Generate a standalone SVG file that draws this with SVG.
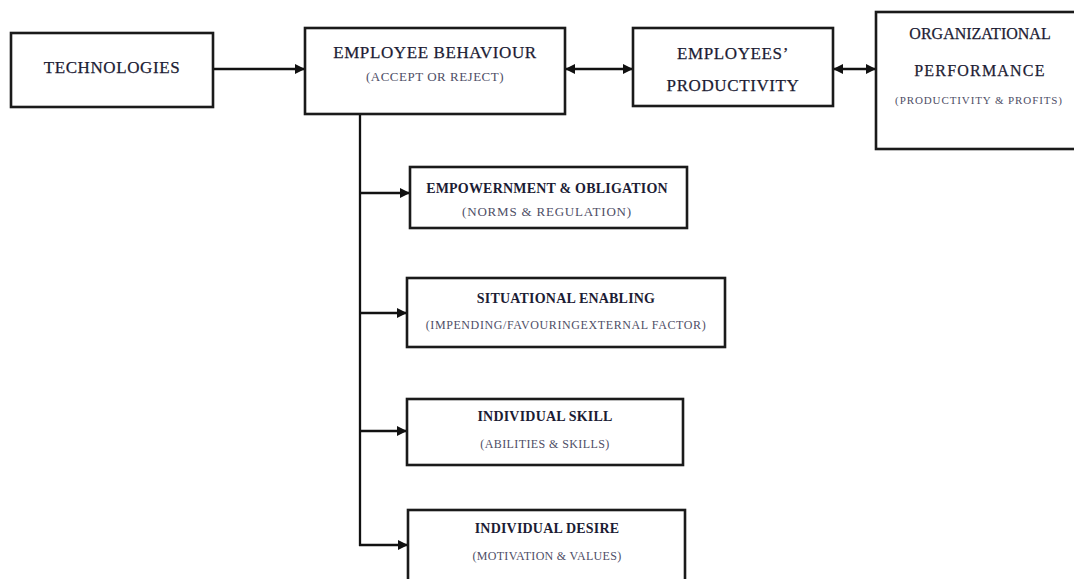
<svg xmlns="http://www.w3.org/2000/svg" width="1074" height="579" viewBox="0 0 1074 579">
<defs>
<marker id="ah" viewBox="0 0 10 10" refX="10" refY="5" markerWidth="11" markerHeight="10" markerUnits="userSpaceOnUse" orient="auto-start-reverse">
<path d="M0,0 L10,5 L0,10 z" fill="#111"/>
</marker>
<style>
.box{fill:#fff;stroke:#1a1a1a;stroke-width:2.6}
.t{font-family:"Liberation Serif","Times New Roman",serif;fill:#1c1c34;text-anchor:middle}
.big{font-size:17px;letter-spacing:0.6px;stroke:#1c1c34;stroke-width:0.25}
.mid{font-size:16px;stroke:#1c1c34;stroke-width:0.25}
.b{font-size:14px;font-weight:bold;letter-spacing:0.2px}
.s{font-size:12px;fill:#4e4e66;letter-spacing:0.6px}
.c{stroke:#111;stroke-width:2.3;fill:none}
</style>
</defs>
<rect width="1074" height="579" fill="#fff"/>
<g id="connectors">
<line class="c" x1="213" y1="69" x2="305" y2="69" marker-end="url(#ah)"/>
<line class="c" x1="565" y1="69" x2="633" y2="69" marker-start="url(#ah)" marker-end="url(#ah)"/>
<line class="c" x1="833" y1="69" x2="876" y2="69" marker-start="url(#ah)" marker-end="url(#ah)"/>
<line class="c" x1="360" y1="114" x2="360" y2="546"/>
<line class="c" x1="359" y1="193" x2="410" y2="193" marker-end="url(#ah)"/>
<line class="c" x1="359" y1="313" x2="407" y2="313" marker-end="url(#ah)"/>
<line class="c" x1="359" y1="431" x2="407" y2="431" marker-end="url(#ah)"/>
<line class="c" x1="359" y1="545" x2="408" y2="545" marker-end="url(#ah)"/>
</g>
<g id="technologies">
<rect class="box" x="11" y="33" width="202" height="74"/>
<text class="t big" x="112" y="73">TECHNOLOGIES</text>
</g>
<g id="employee-behaviour">
<rect class="box" x="305" y="28" width="260" height="86"/>
<text class="t big" x="435" y="58">EMPLOYEE BEHAVIOUR</text>
<text class="t s" x="435" y="81" style="font-size:13px;letter-spacing:0.5px">(ACCEPT OR REJECT)</text>
</g>
<g id="employees-productivity">
<rect class="box" x="633" y="28" width="200" height="78"/>
<text class="t big" x="733" y="59">EMPLOYEES’</text>
<text class="t big" x="733" y="91">PRODUCTIVITY</text>
</g>
<g id="organizational-performance">
<rect class="box" x="876" y="12" width="210" height="137"/>
<text class="t mid" x="980" y="39">ORGANIZATIONAL</text>
<text class="t mid" x="980" y="76" style="letter-spacing:1.2px">PERFORMANCE</text>
<text class="t s" x="979" y="104" style="font-size:11px;letter-spacing:0.9px">(PRODUCTIVITY &amp; PROFITS)</text>
</g>
<g id="empowerment">
<rect class="box" x="410" y="167" width="277" height="61"/>
<text class="t b" x="547" y="193">EMPOWERNMENT &amp; OBLIGATION</text>
<text class="t s" x="547" y="216" style="font-size:13px;letter-spacing:0.8px">(NORMS &amp; REGULATION)</text>
</g>
<g id="situational">
<rect class="box" x="407" y="278" width="318" height="69"/>
<text class="t b" x="566" y="303">SITUATIONAL ENABLING</text>
<text class="t s" x="566" y="329">(IMPENDING/FAVOURINGEXTERNAL FACTOR)</text>
</g>
<g id="individual-skill">
<rect class="box" x="407" y="399" width="276" height="66"/>
<text class="t b" x="545" y="421">INDIVIDUAL SKILL</text>
<text class="t s" x="545" y="448" style="letter-spacing:0.4px">(ABILITIES &amp; SKILLS)</text>
</g>
<g id="individual-desire">
<rect class="box" x="408" y="510" width="277" height="80"/>
<text class="t b" x="547" y="533">INDIVIDUAL DESIRE</text>
<text class="t s" x="547" y="560" style="letter-spacing:0.3px">(MOTIVATION &amp; VALUES)</text>
</g>
</svg>
